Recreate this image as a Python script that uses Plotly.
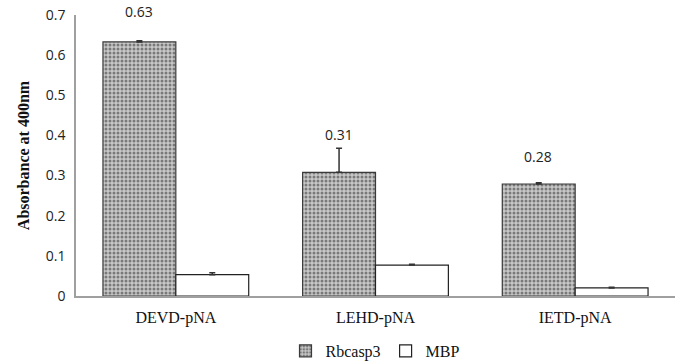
import plotly.graph_objects as go

categories = ["DEVD-pNA", "LEHD-pNA", "IETD-pNA"]
rbcasp3 = [0.633, 0.308, 0.279]
rbcasp3_err = [0.003, 0.06, 0.003]
mbp = [0.053, 0.077, 0.020]
mbp_err = [0.005, 0.002, 0.002]
label_texts = ["0.63", "0.31", "0.28"]
label_shift = [33, 40, 30]

serif = "Liberation Serif"
sans = "Open Sans"

fig = go.Figure()
fig.add_trace(go.Bar(
    x=categories, y=rbcasp3, name="Rbcasp3",
    marker=dict(color="#bdbdbd", line=dict(color="#3a3a3a", width=1.2),
                pattern=dict(shape=".", fgcolor="#2a2a2a", bgcolor="#c8c8c8", size=4, solidity=0.45)),
    error_y=dict(type="data", array=rbcasp3_err, arrayminus=[0]*3, color="#333", thickness=1.5, width=3),
))
fig.add_trace(go.Bar(
    x=categories, y=mbp, name="MBP",
    marker=dict(color="white", line=dict(color="#222", width=1.2)),
    error_y=dict(type="data", array=mbp_err, arrayminus=[0]*3, color="#333", thickness=1.5, width=3),
))
for c, v, t, s in zip(categories, rbcasp3, label_texts, label_shift):
    fig.add_annotation(x=c, y=v, text=t, showarrow=False, xshift=-37, yshift=s - 14,
                       yanchor="bottom", font=dict(family=sans, size=14, color="#222"))

fig.update_layout(
    width=678, height=363, barmode="group", bargap=0.27, bargroupgap=0,
    plot_bgcolor="white", paper_bgcolor="white",
    margin=dict(l=76, r=3, t=15, b=67, autoexpand=False),
    showlegend=True,
    legend=dict(orientation="h", x=0.5, xanchor="center", y=-0.135, yanchor="top",
                font=dict(family=serif, size=16, color="#111"), itemwidth=30,
                tracegroupgap=0),
    xaxis=dict(showline=True, linecolor="#a0a0a0", linewidth=1.5, ticks="",
               tickfont=dict(family=serif, size=16, color="#111"), ticklabelstandoff=6),
    yaxis=dict(range=[0, 0.7], dtick=0.1, showgrid=False, showline=True, linecolor="#a0a0a0",
               linewidth=1.5, ticks="", zeroline=False,
               tickfont=dict(family=sans, size=14, color="#222"), ticklabelstandoff=6,
               title=dict(text="<b>Absorbance at 400nm</b>", font=dict(family=serif, size=16, color="#111"), standoff=12)),
)
fig.write_html("out.html")
